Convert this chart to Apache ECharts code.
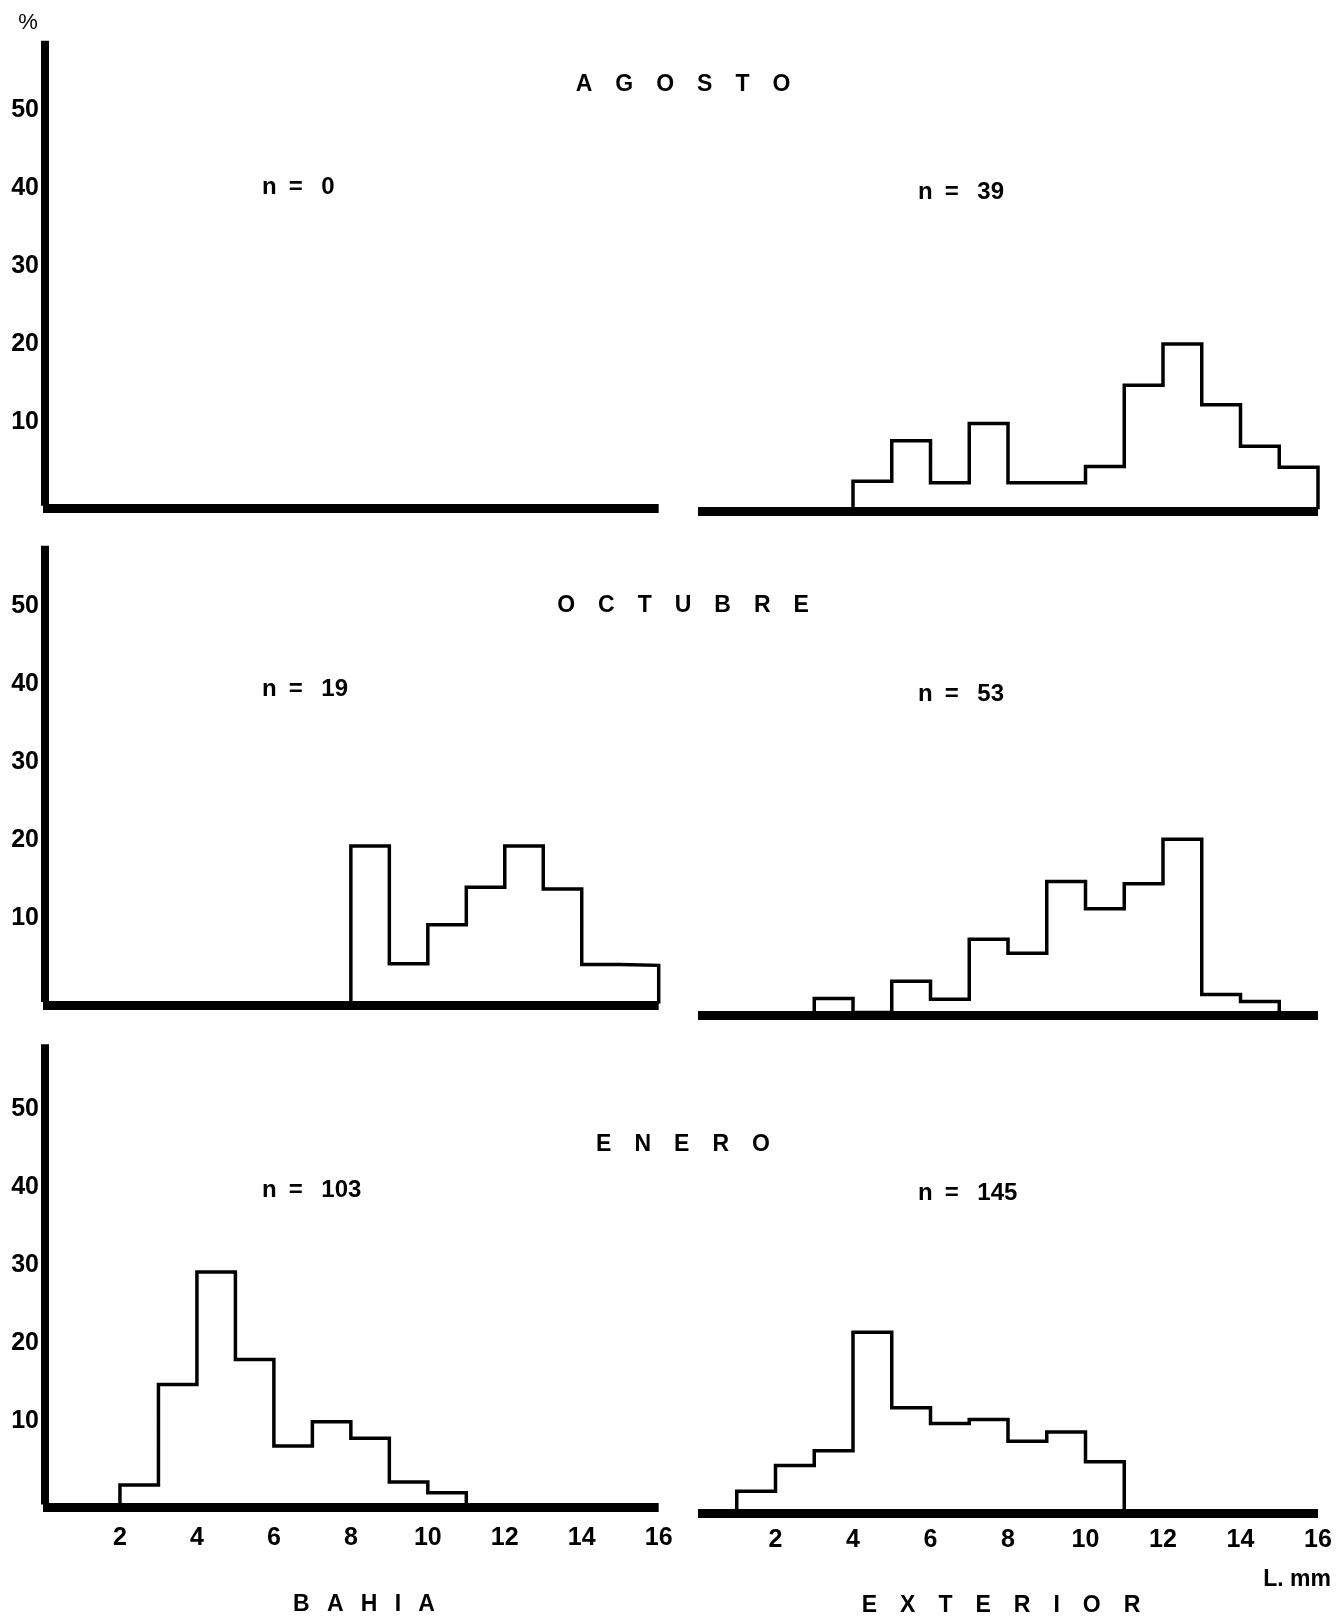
<!DOCTYPE html>
<html>
<head>
<meta charset="utf-8">
<title>Distribución de tallas</title>
<script src="https://cdn.jsdelivr.net/npm/echarts@6/dist/echarts.min.js"></script>
<style>
  html, body { margin: 0; padding: 0; background: #fff; }
  #chart { width: 1337px; height: 1621px; }
</style>
</head>
<body>
<div id="chart"></div>
<script>
// Length-frequency histograms (1 mm classes), percentage per class.
const percentTicks = [10, 20, 30, 40, 50];
const lengthTicks = [2, 4, 6, 8, 10, 12, 14, 16];

const monthNames = ['AGOSTO', 'OCTUBRE', 'ENERO'];
const siteNames = ['BAHIA', 'EXTERIOR'];

// sample sizes: [bahia, exterior]
const agostoN = [0, 39];
const octubreN = [19, 53];
const eneroN = [103, 145];

// first class lower bound (mm) and % per 1 mm class
const agostoBahiaStart = 0;
const agostoBahia = [];
const agostoExteriorStart = 4;
const agostoExterior = [3.4, 8.6, 3.2, 10.8, 3.2, 3.2, 5.3, 15.7, 21.0, 13.2, 7.9, 5.2];

const octubreBahiaStart = 8;
const octubreBahia = [20.0, 4.9, 9.9, 14.7, 20.0, 14.5, 4.8, 4.7];
const octubreExteriorStart = 3;
const octubreExterior = [1.8, 0, 4.0, 1.7, 9.4, 7.6, 16.8, 13.3, 16.5, 22.2, 2.3, 1.4];

const eneroBahiaStart = 2;
const eneroBahia = [2.5, 15.4, 29.8, 18.6, 7.5, 10.6, 8.5, 2.9, 1.5];
const eneroExteriorStart = 1;
const eneroExterior = [2.4, 5.7, 7.6, 22.8, 13.1, 11.1, 11.6, 8.8, 10.0, 6.2];

// ---- layout ----
const FONT = '"Liberation Sans", Arial, Helvetica, sans-serif';
const PX_PER_PCT = 7.8;
const BASE_W = 9;        // thickness of the base line
const BASE_SHIFT = 3;    // base line drawn just below zero
const COLS = [
  { left: 43, width: 615.7 },   // bahia
  { left: 698, width: 620 }     // exterior
];
// zero level per panel, and top of the % axis
const ROWS = [
  { zero: [505.7, 507.8], max: 59.6 },
  { zero: [1002, 1012.5], max: 58.5 },
  { zero: [1504.5, 1510], max: 59 }
];

const panels = [
  [ { start: agostoBahiaStart, vals: agostoBahia }, { start: agostoExteriorStart, vals: agostoExterior } ],
  [ { start: octubreBahiaStart, vals: octubreBahia }, { start: octubreExteriorStart, vals: octubreExterior } ],
  [ { start: eneroBahiaStart, vals: eneroBahia }, { start: eneroExteriorStart, vals: eneroExterior } ]
];

// outline of a histogram as step points (vertical edge at each class start)
function outline(start, vals) {
  if (!vals.length) return [];
  const pts = [[start, 0]];
  vals.forEach((v, i) => pts.push([start + i + 1, v]));
  pts.push([start + vals.length, 0]);
  return pts;
}

const grids = [], xAxes = [], yAxes = [], series = [];
ROWS.forEach((row, r) => {
  COLS.forEach((col, c) => {
    const idx = grids.length;
    const h = row.max * PX_PER_PCT;
    grids.push({ left: col.left, width: col.width, top: row.zero[c] - h, height: h, containLabel: false });
    const lastRow = r === ROWS.length - 1;
    xAxes.push({
      gridIndex: idx, type: 'value', min: 0, max: 16, interval: 2,
      offset: BASE_SHIFT,
      axisLine: { show: true, onZero: false, lineStyle: { color: '#000', width: BASE_W, cap: 'butt' } },
      axisTick: { show: false },
      splitLine: { show: false },
      axisLabel: {
        show: lastRow,
        margin: c === 0 ? 18 : 15,
        color: '#000', fontFamily: FONT, fontWeight: 'bold', fontSize: 25,
        formatter: v => lengthTicks.includes(v) ? String(v) : ''
      }
    });
    yAxes.push({
      gridIndex: idx, type: 'value', min: 0, max: row.max, interval: 10,
      show: c === 0,
      offset: -2,
      axisLine: { show: true, onZero: false, lineStyle: { color: '#000', width: 8, cap: 'butt' } },
      axisTick: { show: false },
      splitLine: { show: false },
      axisLabel: {
        margin: 6,
        color: '#000', fontFamily: FONT, fontWeight: 'bold', fontSize: 25,
        lineHeight: 11, verticalAlign: 'bottom',
        formatter: v => percentTicks.includes(v) ? String(v) : ''
      }
    });
    const p = panels[r][c];
    series.push({
      type: 'line', xAxisIndex: idx, yAxisIndex: idx,
      step: 'start', symbol: 'none', silent: true,
      lineStyle: { color: '#000', width: 3.5, join: 'miter', cap: 'square' },
      data: outline(p.start, p.vals)
    });
  });
});

// ---- texts ----
const spaced = (s, gap) => s.split('').join(gap || '\u2003');
const nLabel = n => 'n\u2002=\u2002 ' + n;
function txt(x, y, text, size, weight, align) {
  return {
    type: 'text', x: x, y: y, silent: true,
    style: {
      text: text, fill: '#000',
      font: (weight || 'bold') + ' ' + size + 'px ' + FONT,
      align: align || 'center', verticalAlign: 'middle',
      textAlign: align || 'center', textVerticalAlign: 'middle'
    }
  };
}
const allN = [agostoN, octubreN, eneroN];
const titleY = [85, 606, 1145];
const nY = [[187, 192], [689, 694], [1190, 1193]];
const graphics = [txt(28, 23, '%', 22, 'normal')];
monthNames.forEach((m, r) => {
  graphics.push(txt(683, titleY[r], spaced(m), 23));
  graphics.push(txt(262, nY[r][0], nLabel(allN[r][0]), 24, 'bold', 'left'));
  graphics.push(txt(918, nY[r][1], nLabel(allN[r][1]), 24, 'bold', 'left'));
});
graphics.push(txt(364, 1605, spaced(siteNames[0], '\u2002\u2005'), 23));
graphics.push(txt(1001, 1606, spaced(siteNames[1]), 23));
graphics.push(txt(1331, 1580, 'L. mm', 23, 'bold', 'right'));

const chart = echarts.init(document.getElementById('chart'), null, { renderer: 'canvas' });
chart.setOption({
  backgroundColor: '#fff',
  animation: false,
  grid: grids,
  xAxis: xAxes,
  yAxis: yAxes,
  series: series,
  graphic: graphics
});
</script>
</body>
</html>
